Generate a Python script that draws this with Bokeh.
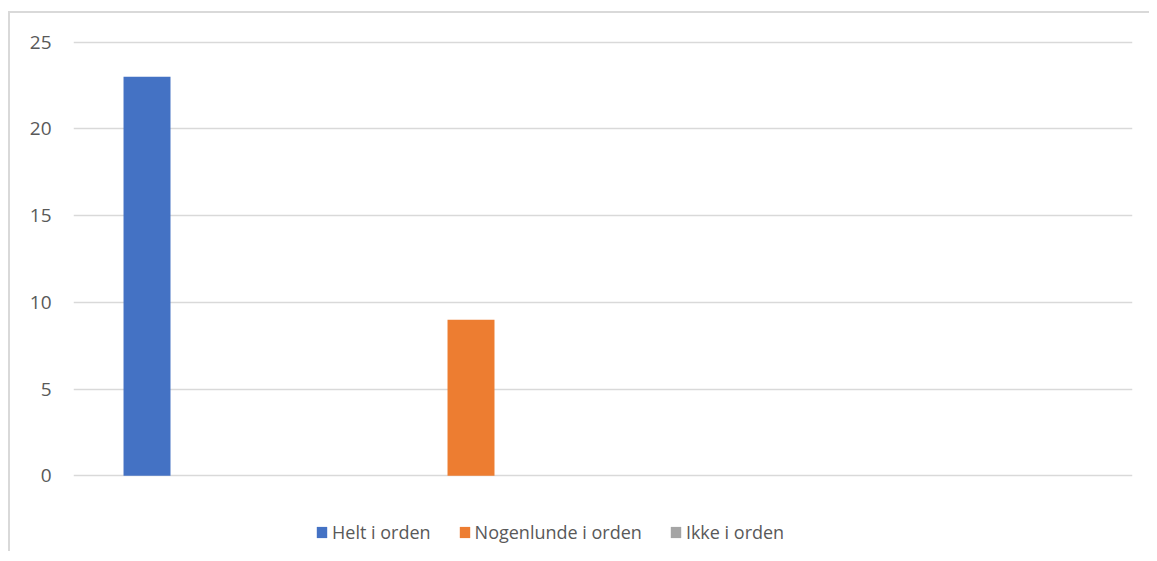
from bokeh.plotting import figure
from bokeh.models import ColumnDataSource, Range1d, FixedTicker, Legend, LegendItem
from bokeh.embed import file_html
from bokeh.resources import INLINE

# ---- data ----
series_names = ["Helt i orden", "Nogenlunde i orden", "Ikke i orden"]
series_values = [23, 9, 0]
series_colors = ["#4472C4", "#ED7D31", "#A5A5A5"]
y_ticks = [0, 5, 10, 15, 20, 25]

FONT = "Open Sans"
TXT = "#595959"

source = ColumnDataSource(dict(
    x=list(range(len(series_names))),
    top=series_values,
    color=series_colors,
    name=series_names,
))

p = figure(
    width=1141, height=540,
    output_backend="svg", toolbar_location=None,
    x_range=Range1d(-0.2269, 3.0417),
    y_range=Range1d(-4.48, 25.44),
    min_border_left=63, min_border_right=19,
    min_border_top=21, min_border_bottom=0,
)
p.styles = {
    "border-left": "2px solid #d9d9d9",
    "border-top": "2px solid #d9d9d9",
    "margin-left": "8px",
    "margin-top": "11px",
}

p.outline_line_color = None
p.background_fill_color = "white"
p.border_fill_color = "white"

r = p.vbar(x="x", top="top", bottom=0, width=0.145, color="color",
           line_color=None, source=source)

# axes
p.xaxis.visible = False
p.xgrid.visible = False
yax = p.yaxis[0]
yax.ticker = FixedTicker(ticks=y_ticks)
yax.axis_line_color = None
yax.major_tick_line_color = None
yax.minor_tick_line_color = None
yax.major_tick_out = 0
yax.major_tick_in = 0
yax.major_label_standoff = 22
yax.major_label_text_font = FONT
yax.major_label_text_font_size = "19px"
yax.major_label_text_color = TXT

p.ygrid.ticker = FixedTicker(ticks=y_ticks)
p.ygrid.grid_line_color = "#d9d9d9"
p.ygrid.grid_line_width = 1.5

# legend
items = [LegendItem(label=n, renderers=[r], index=i) for i, n in enumerate(series_names)]
legend = Legend(
    items=items, orientation="horizontal", location=(242, 9),
    label_text_font=FONT, label_text_font_size="18px", label_text_color=TXT,
    glyph_width=13, glyph_height=14, label_standoff=4, spacing=27,
    padding=0, margin=0, border_line_color=None, background_fill_alpha=0,
    label_height=20,
)
p.add_layout(legend)

open("out.html", "w").write(file_html(p, INLINE))
